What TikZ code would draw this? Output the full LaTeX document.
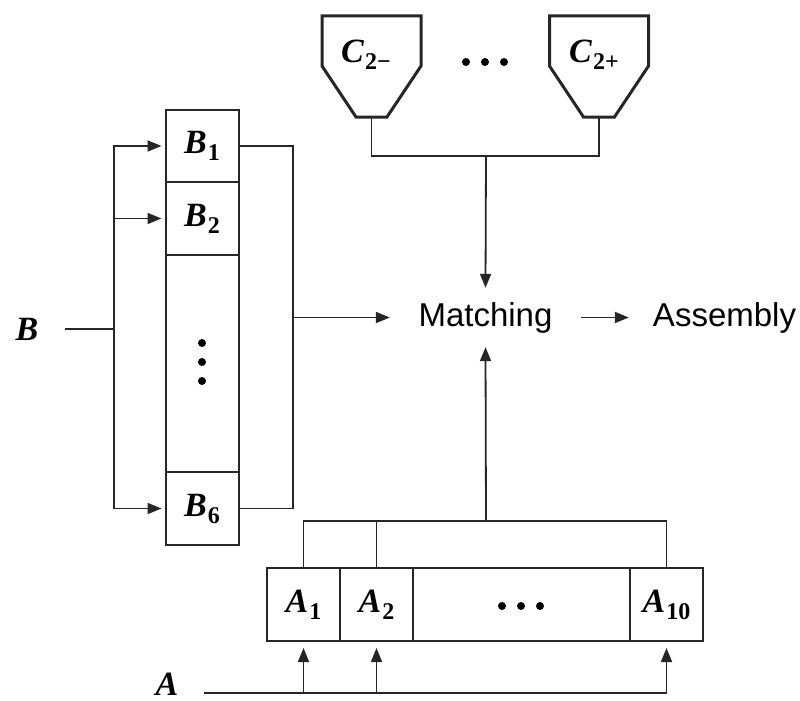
\documentclass[tikz,border=0pt]{standalone}
\usepackage{fontspec}
\setmainfont{Liberation Serif}
\newfontfamily\labelsans{Liberation Sans}
\usetikzlibrary{arrows.meta}

% bold italic symbol with a bold upright subscript
\newcommand\symlab[2]{\textbf{\textit{#1}}\kern1pt\raisebox{-7pt}{\fontsize{24}{24}\selectfont\textbf{#2}}}

\tikzset{
  ink/.style={draw=black!85},
  cell/.style={ink, line width=2pt, inner sep=0pt, minimum width=73pt,
               font=\fontsize{34}{36}\selectfont},
  conn/.style={ink, line width=1.8pt},
  arr/.style={conn, -{Triangle[length=14pt,width=11pt]}},
  stage/.style={inner sep=0pt, minimum width=191pt, minimum height=59pt,
                font=\labelsans\fontsize{33}{36}\selectfont},
  symtext/.style={inner sep=0pt, font=\fontsize{34}{36}\selectfont},
  dot/.style={fill=black},
  hopperpic/.pic={
    \draw[ink, line width=3pt, line join=miter]
      (-49.5,16) -- (49.5,16) -- (49.5,66) -- (15.5,117)
      -- (-15.5,117) -- (-49.5,66) -- cycle;
    \coordinate (-bot) at (0,117);
  }
}

\begin{document}
\begin{tikzpicture}[x=1pt, y=-1pt]
\useasboundingbox (0,0) rectangle (800,701);

% hoppers C
\pic (cm) at (371.5,0) {hopperpic};
\pic (cp) at (599,0) {hopperpic};
\node[symtext] (cmlab) at (366,55) {\symlab{C}{2−}};
\node[symtext] (cplab) at (594,55) {\symlab{C}{2+}};
\foreach \x in {466,485,504} \fill[dot] (\x,62) circle (4);

% stages
\node[stage] (match) at (485.5,317.5) {Matching};
\node[stage] (asm) at (724.5,317.5) {Assembly};

% B column
\node[cell, minimum height=72pt] (b1) at (202,146) {\symlab{B}{1}};
\node[cell, minimum height=73pt] (b2) at (202,218.5) {\symlab{B}{2}};
\node[cell, minimum height=217pt] (bdots) at (202,363.5) {};
\node[cell, minimum height=73pt] (b6) at (202,508.5) {\symlab{B}{6}};
\foreach \y in {343,362,381} \fill[dot] (202,\y) circle (4);

% A row
\node[cell, minimum height=73pt] (a1) at (303.5,604.5) {\symlab{A}{1}};
\node[cell, minimum height=73pt] (a2) at (376.5,604.5) {\symlab{A}{2}};
\node[cell, minimum height=73pt, minimum width=217pt] (adots) at (521.5,604.5) {};
\node[cell, minimum height=73pt] (a10) at (666.5,604.5) {\symlab{A}{10}};
\foreach \x in {502,521,540} \fill[dot] (\x,606) circle (4);

% input labels
\node[symtext] (blab) at (27,329) {\textbf{\textit{B}}};
\node[symtext] (alab) at (167,684) {\textbf{\textit{A}}};

% junction points
\coordinate (cj) at (486,156);
\coordinate (bin) at (65,329);
\coordinate (bsplit) at (114,329);
\coordinate (bmerge) at (293,317.5);
\coordinate (aj) at (486,521);
\coordinate (ain) at (204,693);

% C feed
\draw[conn] (cm-bot) |- (cj) -| (cp-bot);
\draw[arr] (cj) -- (match.north);

% B feed
\draw[conn] (bin) -- (bsplit);
\draw[arr, shorten >=3pt] (bsplit) |- (b1.west);
\draw[arr, shorten >=3pt] (bsplit) |- (b2.west);
\draw[arr, shorten >=3pt] (bsplit) |- (b6.west);
\draw[conn] (b1.east) -| (bmerge);
\draw[conn] (b6.east) -| (bmerge);
\draw[arr] (bmerge) -- (match.west);

% A feed
\draw[conn] (a1.north) |- (aj) -| (a10.north);
\draw[conn] (a2.north) -- (a2.north |- aj);
\draw[arr] (aj) -- (match.south);
\draw[arr, shorten >=6pt] (ain) -| (a10.south);
\draw[arr, shorten >=6pt] (a1.south |- ain) -- (a1.south);
\draw[arr, shorten >=6pt] (a2.south |- ain) -- (a2.south);

% output
\draw[arr] (match.east) -- (asm.west);
\end{tikzpicture}
\end{document}
